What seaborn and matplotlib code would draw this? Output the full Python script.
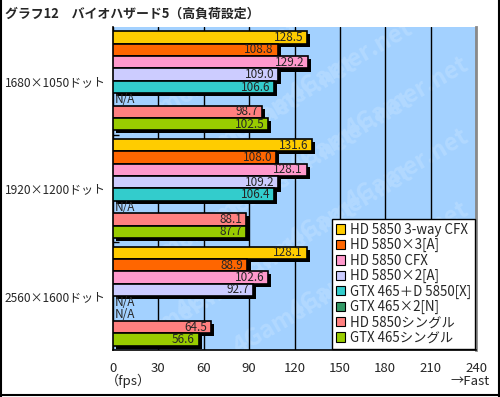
import numpy as np
import pandas as pd
import matplotlib
matplotlib.use('Agg')
import matplotlib.pyplot as plt
import matplotlib.patheffects as pe
from matplotlib.patches import Patch
import seaborn as sns

# chart data
resolutions = ['1680×1050ドット', '1920×1200ドット', '2560×1600ドット']
cards = ['HD 5850 3-way CFX', 'HD 5850×3[A]', 'HD 5850 CFX', 'HD 5850×2[A]',
         'GTX 465＋D 5850[X]', 'GTX 465×2[N]', 'HD 5850シングル', 'GTX 465シングル']
colors = ['#FFCC00', '#FF6600', '#FF99CC', '#CCCCFF',
          '#33CCCC', '#339966', '#FF8080', '#99CC00']
fps_1680 = [128.5, 108.8, 129.2, 109.0, 106.6, np.nan, 98.7, 102.5]
fps_1920 = [131.6, 108.0, 128.1, 109.2, 106.4, np.nan, 88.1, 87.7]
fps_2560 = [128.1, 88.9, 102.6, 92.7, np.nan, np.nan, 64.5, 56.6]
x_ticks = [0, 30, 60, 90, 120, 150, 180, 210, 240]

rows = []
for res, vals in zip(resolutions, [fps_1680, fps_1920, fps_2560]):
    for card, v in zip(cards, vals):
        rows.append({'res': res, 'card': card, 'fps': v})
df = pd.DataFrame(rows)

sns.set_style('white')
plt.rcParams['font.family'] = ['Noto Sans CJK JP', 'DejaVu Sans']

fig = plt.figure(figsize=(5, 3.97), dpi=100)
ax = fig.add_axes([0.226, 0.1184, 0.726, 0.8136])
ax.set_facecolor('#A3D1FF')

# faint site watermark, tiled inside the plot area
for r in range(8):
    cols = [0.19, 0.5, 0.81] if r % 2 == 0 else [0.345, 0.655]
    for xw in cols:
        ax.text(xw, 0.11 + r * 0.112, '4Gamer.net', transform=ax.transAxes,
                rotation=30, fontsize=17, fontweight='bold', color='#B2D9FF',
                ha='center', va='center', zorder=0.5, clip_on=True)

sns.barplot(data=df, y='res', x='fps', hue='card', order=resolutions,
            hue_order=cards, palette=colors, orient='h', width=0.92,
            edgecolor='black', linewidth=1.2, errorbar=None, legend=False,
            saturation=1, ax=ax, zorder=3)

shadow = [pe.SimplePatchShadow(offset=(2.2, -2.2), shadow_rgbFace='black', alpha=1),
          pe.Normal()]
n = len(cards)
w = 0.92
for gi, vals in enumerate([fps_1680, fps_1920, fps_2560]):
    for ci, v in enumerate(vals):
        yc = gi - w / 2 + w / n * (ci + 0.5)
        if np.isnan(v):
            ax.text(1.0, yc, 'N/A', ha='left', va='center', fontsize=8.5, zorder=5)
        else:
            ax.text(v - 2.5, yc, f'{v:.1f}', ha='right', va='center',
                    fontsize=8.5, zorder=5)
for p in ax.patches:
    p.set_path_effects(shadow)

ax.set_xlim(0, 240)
ax.set_xticks(x_ticks)
ax.set_xticklabels([str(t) for t in x_ticks], fontsize=9.5)
ax.tick_params(axis='x', length=0, pad=9)
ax.grid(axis='x', color='black', linewidth=1)
ax.set_axisbelow(True)

ax.set_ylim(2.5, -0.5)
ax.set_yticks(range(len(resolutions)))
ax.set_yticklabels(resolutions, fontsize=8.6, ha='left')
ax.tick_params(axis='y', length=0, pad=78)
ax.set_yticks([0.5, 1.5], minor=True)
ax.tick_params(axis='y', which='minor', left=True, direction='in', length=4,
               width=1, color='black')
ax.set_xlabel('')
ax.set_ylabel('')

for side in ['left', 'bottom']:
    ax.spines[side].set_color('black')
    ax.spines[side].set_linewidth(1.2)
ax.spines['top'].set_visible(False)
ax.spines['right'].set_color('#8a8a8a')
ax.spines['right'].set_linewidth(2)

handles = [Patch(facecolor=c, edgecolor='black', linewidth=0.8) for c in colors]
leg = ax.legend(handles, cards, loc='lower right', fontsize=9.6, frameon=True,
                fancybox=False, framealpha=1, edgecolor='black',
                handlelength=0.7, handleheight=0.7, handletextpad=0.35,
                labelspacing=0.1, borderpad=0.3, borderaxespad=0.1)
leg.get_frame().set_linewidth(1)
leg.set_zorder(6)

fig.text(0.01, 0.965, 'グラフ12　バイオハザード5（高負荷設定）', fontsize=9.3,
         fontweight='bold', ha='left', va='center')
fig.text(0.212, 0.04, '（fps）', fontsize=9.5, ha='left', va='center')
fig.text(0.98, 0.04, '→Fast', fontsize=9.5, ha='right', va='center')

# outer frame
for x0, y0, x1, y1 in [(0.001, 0, 0.001, 1), (0.997, 0, 0.997, 1), (0, 0.004, 1, 0.004)]:
    fig.add_artist(plt.Line2D([x0, x1], [y0, y1], color='black', linewidth=1.5))

fig.savefig('out.png', dpi=100)
